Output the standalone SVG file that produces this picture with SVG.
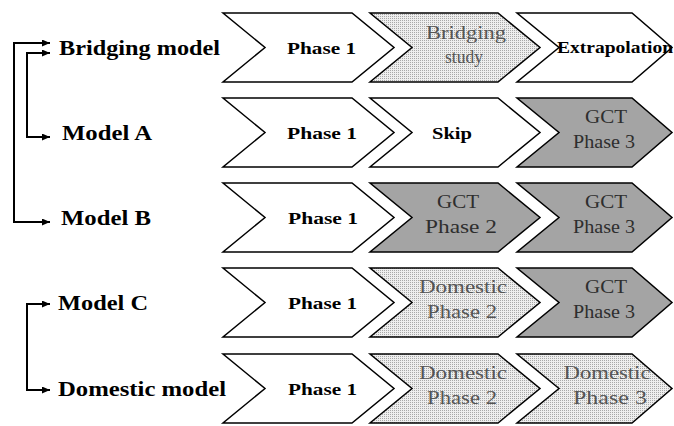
<svg xmlns="http://www.w3.org/2000/svg" width="674" height="426" viewBox="0 0 674 426">
<style>
.chev{stroke:#000;stroke-width:1.5;stroke-linejoin:miter}
.white{fill:#fff}
.dot{fill:url(#dots)}
.dark{fill:#a4a4a4}
text{font-family:'Liberation Serif','Times New Roman','DejaVu Serif',serif}
.lbl{font-weight:bold;font-size:20px;fill:#000}
.bt{font-weight:bold;font-size:17px;fill:#000}
.gt{font-size:19px;fill:#555;text-anchor:middle}
.dt{font-size:19px;fill:#2e2e2e;text-anchor:middle}
.con{fill:none;stroke:#000;stroke-width:2}
</style>
<defs>
<pattern id="dots" width="2" height="2" patternUnits="userSpaceOnUse">
<rect width="2" height="2" fill="#eeeeee"/>
<rect width="1" height="1" fill="#a8a8a8"/>
</pattern>
<marker id="ah" viewBox="0 0 8 7" refX="8" refY="3.5" markerWidth="8" markerHeight="7" markerUnits="userSpaceOnUse" orient="auto-start-reverse">
<path d="M0,0 L8,3.5 L0,7 Z" fill="#000"/>
</marker>
</defs>
<rect width="674" height="426" fill="#fff"/>

<g id="connectors">
<path class="con" d="M50,43 H14 V222 H50" marker-start="url(#ah)" marker-end="url(#ah)"/>
<path class="con" d="M50,53 H27 V137 H50" marker-start="url(#ah)" marker-end="url(#ah)"/>
<path class="con" d="M50,304 H27 V390 H50" marker-start="url(#ah)" marker-end="url(#ah)"/>
</g>

<g id="row-bridging">
<text class="lbl" x="59" y="55" textLength="161" lengthAdjust="spacingAndGlyphs">Bridging model</text>
<g id="bridging-phase1">
<polygon class="chev white" points="223,13 352,13 394,47.5 352,82 223,82 265,47.5"/>
<text class="bt" x="287" y="54" textLength="69" lengthAdjust="spacingAndGlyphs">Phase 1</text>
</g>
<g id="bridging-study">
<polygon class="chev dot" points="370,13 498,13 540,47.5 498,82 370,82 412,47.5"/>
<text class="gt" x="466" y="39" textLength="80" lengthAdjust="spacingAndGlyphs">Bridging</text>
<text class="gt" x="464" y="63" textLength="38" lengthAdjust="spacingAndGlyphs">study</text>
</g>
<g id="bridging-extrapolation">
<polygon class="chev white" points="517,13 632,13 672,47.5 632,82 517,82 559,47.5"/>
<text class="bt" x="557" y="53" font-size="15" textLength="116" lengthAdjust="spacingAndGlyphs">Extrapolation</text>
</g>
</g>

<g id="row-model-a">
<text class="lbl" x="62" y="140" textLength="90" lengthAdjust="spacingAndGlyphs">Model A</text>
<g id="a-phase1">
<polygon class="chev white" points="223,98 352,98 394,132.5 352,167 223,167 265,132.5"/>
<text class="bt" x="287" y="139" textLength="70" lengthAdjust="spacingAndGlyphs">Phase 1</text>
</g>
<g id="a-skip">
<polygon class="chev white" points="370,98 498,98 540,132.5 498,167 370,167 412,132.5"/>
<text class="bt" x="432" y="139" textLength="40" lengthAdjust="spacingAndGlyphs">Skip</text>
</g>
<g id="a-gct3">
<polygon class="chev dark" points="517,98 632,98 672,132.5 632,167 517,167 559,132.5"/>
<text class="dt" x="606" y="123" textLength="42" lengthAdjust="spacingAndGlyphs">GCT</text>
<text class="dt" x="604" y="148" textLength="62" lengthAdjust="spacingAndGlyphs">Phase 3</text>
</g>
</g>

<g id="row-model-b">
<text class="lbl" x="61" y="225" textLength="90" lengthAdjust="spacingAndGlyphs">Model B</text>
<g id="b-phase1">
<polygon class="chev white" points="223,183 352,183 394,217.5 352,252 223,252 265,217.5"/>
<text class="bt" x="288" y="224" textLength="70" lengthAdjust="spacingAndGlyphs">Phase 1</text>
</g>
<g id="b-gct2">
<polygon class="chev dark" points="370,183 498,183 540,217.5 498,252 370,252 412,217.5"/>
<text class="dt" x="458" y="208" textLength="42" lengthAdjust="spacingAndGlyphs">GCT</text>
<text class="dt" x="461" y="233" textLength="72" lengthAdjust="spacingAndGlyphs">Phase 2</text>
</g>
<g id="b-gct3">
<polygon class="chev dark" points="517,183 632,183 672,217.5 632,252 517,252 559,217.5"/>
<text class="dt" x="606" y="208" textLength="42" lengthAdjust="spacingAndGlyphs">GCT</text>
<text class="dt" x="604" y="233" textLength="62" lengthAdjust="spacingAndGlyphs">Phase 3</text>
</g>
</g>

<g id="row-model-c">
<text class="lbl" x="58" y="310" textLength="90" lengthAdjust="spacingAndGlyphs">Model C</text>
<g id="c-phase1">
<polygon class="chev white" points="223,268 352,268 394,302.5 352,337 223,337 265,302.5"/>
<text class="bt" x="288" y="309" textLength="69" lengthAdjust="spacingAndGlyphs">Phase 1</text>
</g>
<g id="c-domestic2">
<polygon class="chev dot" points="370,268 498,268 540,302.5 498,337 370,337 412,302.5"/>
<text class="gt" x="463" y="293" textLength="88" lengthAdjust="spacingAndGlyphs">Domestic</text>
<text class="gt" x="462" y="318" textLength="70" lengthAdjust="spacingAndGlyphs">Phase 2</text>
</g>
<g id="c-gct3">
<polygon class="chev dark" points="517,268 632,268 672,302.5 632,337 517,337 559,302.5"/>
<text class="dt" x="606" y="293" textLength="42" lengthAdjust="spacingAndGlyphs">GCT</text>
<text class="dt" x="604" y="318" textLength="62" lengthAdjust="spacingAndGlyphs">Phase 3</text>
</g>
</g>

<g id="row-domestic">
<text class="lbl" x="58" y="396" textLength="168" lengthAdjust="spacingAndGlyphs">Domestic model</text>
<g id="d-phase1">
<polygon class="chev white" points="223,354 352,354 394,388.5 352,423 223,423 265,388.5"/>
<text class="bt" x="288" y="395" textLength="69" lengthAdjust="spacingAndGlyphs">Phase 1</text>
</g>
<g id="d-domestic2">
<polygon class="chev dot" points="370,354 498,354 540,388.5 498,423 370,423 412,388.5"/>
<text class="gt" x="463" y="379" textLength="88" lengthAdjust="spacingAndGlyphs">Domestic</text>
<text class="gt" x="462" y="404" textLength="70" lengthAdjust="spacingAndGlyphs">Phase 2</text>
</g>
<g id="d-domestic3">
<polygon class="chev dot" points="517,354 632,354 672,388.5 632,423 517,423 559,388.5"/>
<text class="gt" x="607" y="379" textLength="87" lengthAdjust="spacingAndGlyphs">Domestic</text>
<text class="gt" x="610" y="404" textLength="74" lengthAdjust="spacingAndGlyphs">Phase 3</text>
</g>
</g>
</svg>
